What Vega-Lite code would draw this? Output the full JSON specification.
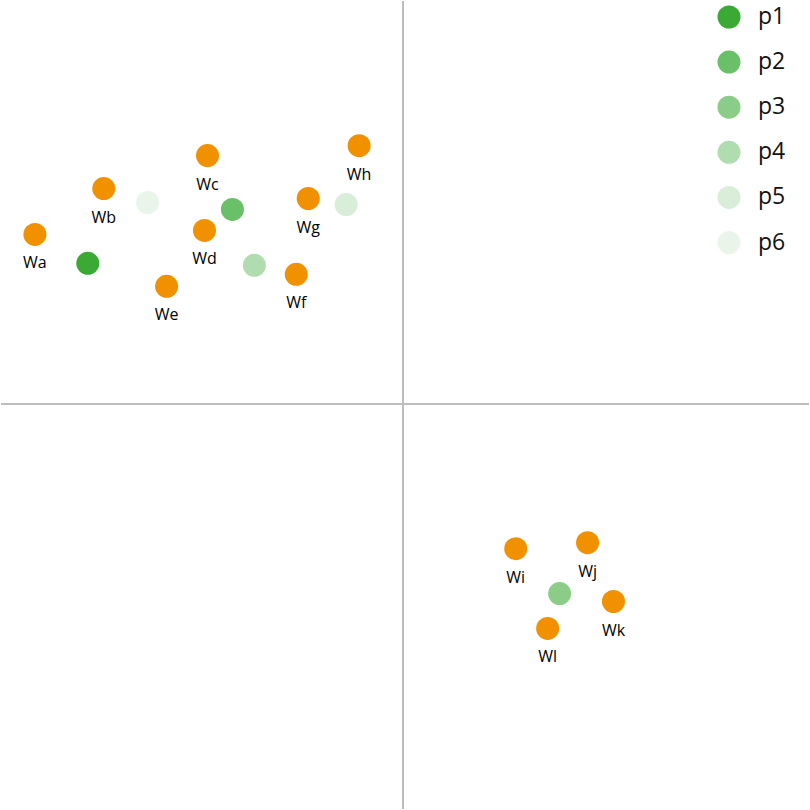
{
  "$schema": "https://vega.github.io/schema/vega-lite/v6.json",
  "width": 810,
  "height": 810,
  "autosize": {"type": "fit", "contains": "padding"},
  "padding": 0,
  "background": "white",
  "config": {"view": {"stroke": null}, "font": "Open Sans"},
  "datasets": {
    "words": [
      {"name": "Wa", "x": -369, "y": 170},
      {"name": "Wb", "x": -300, "y": 216},
      {"name": "Wc", "x": -196, "y": 249},
      {"name": "Wd", "x": -199, "y": 174},
      {"name": "We", "x": -237, "y": 118},
      {"name": "Wf", "x": -107, "y": 130},
      {"name": "Wg", "x": -95, "y": 206},
      {"name": "Wh", "x": -44, "y": 259},
      {"name": "Wi", "x": 113, "y": -145},
      {"name": "Wj", "x": 185, "y": -139},
      {"name": "Wk", "x": 211, "y": -198},
      {"name": "Wl", "x": 145, "y": -225}
    ],
    "groups": [
      {"group": "p1", "x": -316, "y": 141},
      {"group": "p2", "x": -171, "y": 195},
      {"group": "p3", "x": 157, "y": -190},
      {"group": "p4", "x": -149, "y": 139},
      {"group": "p5", "x": -57, "y": 200},
      {"group": "p6", "x": -256, "y": 202}
    ]
  },
  "layer": [
    {
      "data": {"values": [{}]},
      "mark": {"type": "rule", "color": "#bdbdbd", "strokeWidth": 2},
      "encoding": {"x": {"datum": 0, "type": "quantitative", "scale": {"domain": [-403, 407]}, "axis": null}}
    },
    {
      "data": {"values": [{}]},
      "mark": {"type": "rule", "color": "#bdbdbd", "strokeWidth": 2},
      "encoding": {"y": {"datum": 0, "type": "quantitative", "scale": {"domain": [-406, 404]}, "axis": null}}
    },
    {
      "data": {"name": "groups"},
      "mark": {"type": "point", "filled": true, "opacity": 1, "size": 530},
      "encoding": {
        "x": {"field": "x", "type": "quantitative", "scale": {"domain": [-403, 407]}, "axis": null},
        "y": {"field": "y", "type": "quantitative", "scale": {"domain": [-406, 404]}, "axis": null},
        "color": {
          "field": "group", "type": "nominal",
          "scale": {"domain": ["p1", "p2", "p3", "p4", "p5", "p6"], "range": ["#3aaa35", "#6abf69", "#8acc88", "#b0ddb0", "#d8eed8", "#eaf5ea"]},
          "legend": {
            "title": null, "orient": "none", "legendX": 716, "legendY": 4,
            "symbolType": "circle", "symbolSize": 530, "symbolStrokeWidth": 0,
            "labelFontSize": 23, "labelColor": "#111111", "labelFont": "Open Sans",
            "rowPadding": 21.1, "labelOffset": 17, "padding": 0
          }
        }
      }
    },
    {
      "data": {"name": "words"},
      "mark": {"type": "point", "filled": true, "opacity": 1, "size": 530, "color": "#f29100"},
      "encoding": {
        "x": {"field": "x", "type": "quantitative", "scale": {"domain": [-403, 407]}, "axis": null},
        "y": {"field": "y", "type": "quantitative", "scale": {"domain": [-406, 404]}, "axis": null}
      }
    },
    {
      "data": {"name": "words"},
      "mark": {"type": "text", "dy": 29, "fontSize": 16, "color": "#000000", "font": "Open Sans", "baseline": "middle"},
      "encoding": {
        "x": {"field": "x", "type": "quantitative", "scale": {"domain": [-403, 407]}, "axis": null},
        "y": {"field": "y", "type": "quantitative", "scale": {"domain": [-406, 404]}, "axis": null},
        "text": {"field": "name"}
      }
    }
  ]
}
